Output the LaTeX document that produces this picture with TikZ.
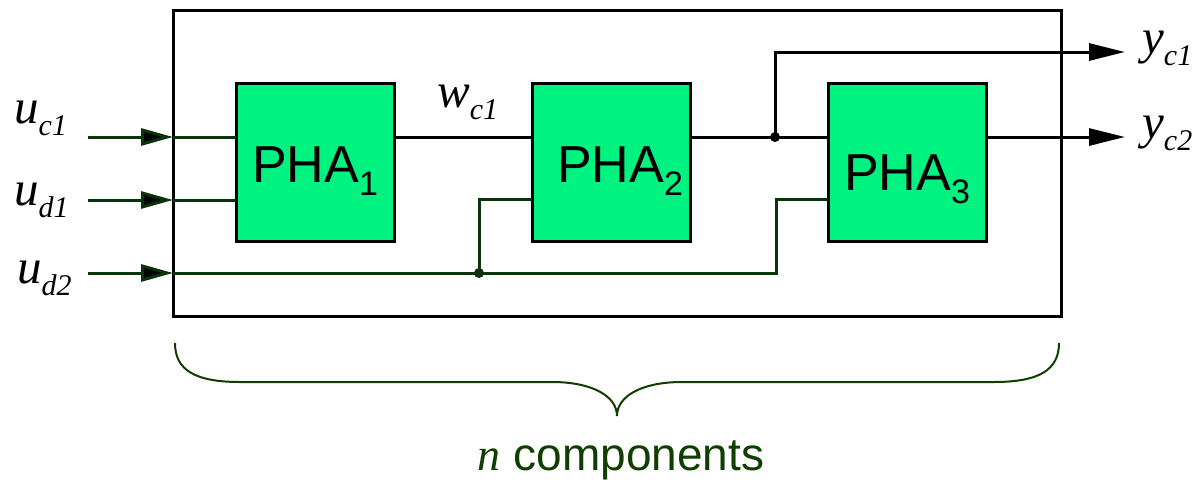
\documentclass[tikz,border=0pt]{standalone}
\usepackage{fontspec}
\setmainfont{Liberation Serif}
\newfontfamily\sansfam{Liberation Sans}
\usetikzlibrary{arrows.meta,calc}
\definecolor{boxgreen}{RGB}{0,242,128}
\definecolor{wiregreen}{RGB}{10,52,10}
\definecolor{bracegreen}{RGB}{16,62,0}
\newcommand\lbl[2]{\textit{#1}\raisebox{-12pt}{\fontsize{30}{30}\selectfont\textit{#2}}}
\newcommand\phalbl[1]{PHA\raisebox{-13pt}{\fontsize{34}{34}\selectfont #1}}
\begin{document}
\begin{tikzpicture}[x=1pt,y=-1pt,
  outerbox/.style={draw=black, line width=3pt, outer sep=0pt, inner sep=0pt},
  pha/.style={draw=black, line width=3pt, fill=boxgreen, outer sep=0pt, inner sep=0pt,
    minimum width=158pt, minimum height=158pt, text height=40pt, text depth=0pt,
    font=\sansfam\fontsize{52}{60}\selectfont},
  wire/.style={line width=3pt, black},
  gwire/.style={line width=3pt, wiregreen},
  inarrow/.style={gwire, -{Triangle[length=32pt,width=17pt,fill=black]}},
  outarrow/.style={wire, -{Triangle[length=36pt,width=17pt]}},
  siglbl/.style={anchor=base west, inner sep=0pt, font=\fontsize{49}{52}\selectfont},
  dot/.style={circle, fill, inner sep=0pt, minimum size=10pt}]
\useasboundingbox (0,0) rectangle (1196,482);

\node[outerbox, minimum width=888pt, minimum height=306pt] (outer) at (617,163) {};
\node[pha] (pha1) at (315,162) {\phalbl{1}\hspace{10pt}};
\node[pha] (pha2) at (611,162) {\hspace{18pt}\phalbl{2}};
\node[pha, text height=56pt] (pha3) at (907,162) {\phalbl{3}};

\coordinate (sc1) at (88,137);
\coordinate (sd1) at (88,200);
\coordinate (sd2) at (88,273);
\coordinate (d2a) at (776,273);
\coordinate (oc1) at (1125,52);
\coordinate (oc2) at (1125,137);

\node[siglbl] (uc1) at (14,123) {\lbl{u}{c1}};
\node[siglbl] (ud1) at (14,205) {\lbl{u}{d1}};
\node[siglbl] (ud2) at (17,283) {\lbl{u}{d2}};
\node[siglbl] (wc1) at (437,107) {\lbl{w}{c1}};
\node[siglbl] (yc1) at (1142,53) {\lbl{y}{c1}};
\node[siglbl] (yc2) at (1142,138) {\lbl{y}{c2}};

% inputs
\draw[inarrow] (sc1) -- (sc1 -| outer.west);
\draw[gwire] (sc1 -| outer.west) -- (sc1 -| pha1.west);
\draw[inarrow] (sd1) -- (sd1 -| outer.west);
\draw[gwire] (sd1 -| outer.west) -- (sd1 -| pha1.west);
\draw[inarrow] (sd2) -- (sd2 -| outer.west);
\node[dot, wiregreen] (jd) at (479,273) {};
\draw[gwire] (sd2 -| outer.west) -- (jd.center) -- (d2a) |- ($(pha3.west)+(0,37)$);
\draw[gwire] (jd.center) |- ($(pha2.west)+(0,37)$);

% couplings and outputs
\draw[wire] (pha1.east |- sc1) -- (pha2.west |- sc1);
\node[dot, black] (jc) at (775,137) {};
\draw[wire] (pha2.east |- sc1) -- (pha3.west |- sc1);
\draw[outarrow] (jc.center) |- (oc1);
\draw[outarrow] (pha3.east |- sc1) -- (oc2);

% brace
\draw[bracegreen, line width=2pt]
  (175,343) .. controls (175,370) and (195,382) .. (240,382) -- (552,382)
  .. controls (592,382) and (617,396) .. (617,416)
  .. controls (617,396) and (642,382) .. (682,382) -- (994,382)
  .. controls (1039,382) and (1059,370) .. (1059,343);
\node[anchor=base, inner sep=0pt, text=bracegreen, font=\sansfam\fontsize{46}{50}\selectfont] (ncomp) at (621,470)
  {{\rmfamily\itshape n} components};
\end{tikzpicture}
\end{document}
